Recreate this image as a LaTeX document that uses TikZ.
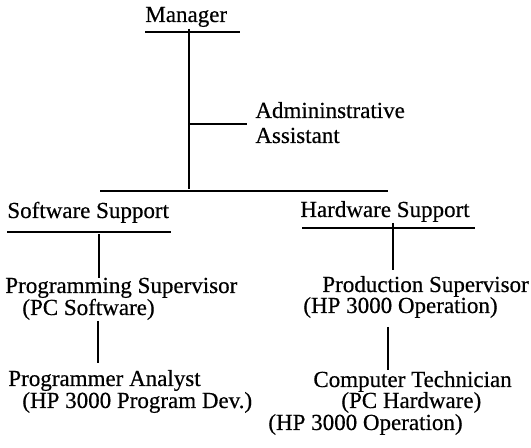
\documentclass[tikz,border=0pt]{standalone}
\usepackage{fontspec}
\newfontfamily\orgfont{Liberation Serif}[FakeBold=0.5]
\usepackage{tikz}

\begin{document}
\begin{tikzpicture}[x=0.5pt, y=-0.5pt,
    lbl/.style={anchor=base west, inner sep=0pt, font=\orgfont\fontsize{11.5}{13}\selectfont},
    rule/.style={line width=1.1pt}]
    \useasboundingbox (0,0) rectangle (531,448);

    % Draw Labels
    \node[lbl] (mgr) at (145,22) {Manager};
    \node[lbl] (asstA) at (255,118) {Admininstrative};
    \node[lbl] (asstB) at (255,143) {Assistant};
    \node[lbl] (sw) at (7,218) {Software Support};
    \node[lbl] (hw) at (300,217) {Hardware Support};
    \node[lbl] (progSup) at (5,293) {Programming Supervisor};
    \node[lbl] (progSupB) at (22,315) {(PC Software)};
    \node[lbl] (progAn) at (8,386) {Programmer Analyst};
    \node[lbl] (progAnB) at (22,408) {(HP 3000 Program Dev.)};
    \node[lbl] (prodSup) at (322,292) {Production Supervisor};
    \node[lbl] (prodSupB) at (303,313) {(HP 3000 Operation)};
    \node[lbl] (tech) at (313,387) {Computer Technician};
    \node[lbl] (techB) at (341,408) {(PC Hardware)};
    \node[lbl] (techC) at (268,430) {(HP 3000 Operation)};

    % Draw Rules
    \coordinate (mgrL) at (145,32);  \coordinate (mgrR) at (240,32);
    \coordinate (barL) at (100,191); \coordinate (barR) at (388,191);
    \coordinate (swL) at (7,232);    \coordinate (swR) at (171,232);
    \coordinate (hwL) at (302,228);  \coordinate (hwR) at (475,228);
    \draw[rule] (mgrL) -- (mgrR);
    \draw[rule] (barL) -- (barR);
    \draw[rule] (swL) -- (swR);
    \draw[rule] (hwL) -- (hwR);

    % Draw Branches
    \coordinate (mgrTop) at (189,29);  \coordinate (mgrBot) at (189,189);
    \coordinate (asstJ) at (189,124);  \coordinate (asstEnd) at (247,124);
    \draw[rule] (mgrTop) -- (mgrBot);
    \draw[rule] (asstJ) -- (asstEnd);

    \coordinate (swA) at (99,234);  \coordinate (swB) at (99,278);
    \coordinate (swC) at (98,321);  \coordinate (swD) at (98,363);
    \draw[rule] (swA) -- (swB);
    \draw[rule] (swC) -- (swD);

    \coordinate (hwA) at (393,223); \coordinate (hwB) at (393,270);
    \coordinate (hwC) at (388,327); \coordinate (hwD) at (388,370);
    \draw[rule] (hwA) -- (hwB);
    \draw[rule] (hwC) -- (hwD);
\end{tikzpicture}
\end{document}
